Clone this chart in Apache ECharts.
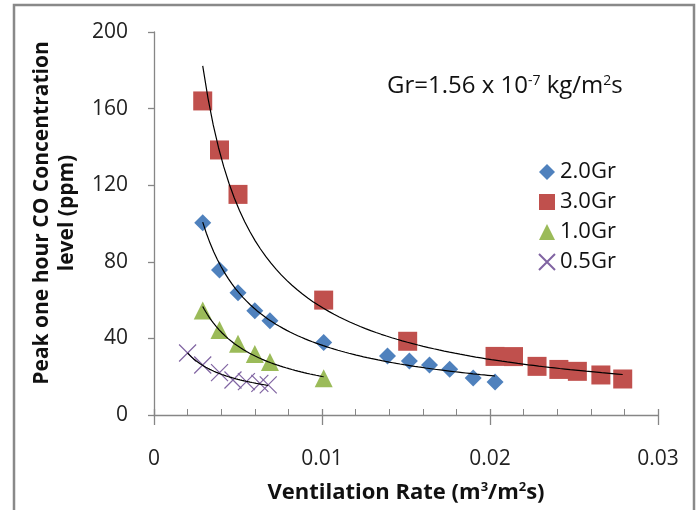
<!DOCTYPE html>
<html><head><meta charset="utf-8">
<script src="https://cdn.jsdelivr.net/npm/echarts@6/dist/echarts.min.js"></script>
<style>html,body{margin:0;padding:0;background:#fff}#c{width:699px;height:510px}</style>
</head><body><div id="c"></div>
<script>
// ---- data ----
const xTicks = [0, 0.01, 0.02, 0.03];
const yTicks = [0, 40, 80, 120, 160, 200];
const seriesNames = ['2.0Gr', '3.0Gr', '1.0Gr', '0.5Gr'];
const gr20X = [0.0029, 0.0039, 0.0050, 0.0060, 0.0069, 0.0101, 0.0139, 0.0152, 0.0164, 0.0176, 0.0190, 0.0203];
const gr20Y = [100.4, 75.7, 63.9, 54.5, 49.2, 37.8, 30.8, 28.2, 26.1, 23.9, 19.3, 17.2];
const gr30X = [0.0029, 0.0039, 0.0050, 0.0101, 0.0151, 0.0203, 0.0214, 0.0228, 0.0241, 0.0252, 0.0266, 0.0279];
const gr30Y = [164, 138.4, 115.2, 60, 38.5, 30.6, 30.5, 25.4, 23.8, 22.8, 20.9, 18.8];
const gr10X = [0.0029, 0.0039, 0.0050, 0.0060, 0.0069, 0.0101];
const gr10Y = [54.6, 44.4, 37.2, 31.8, 27.7, 19.2];
const gr05X = [0.0020, 0.0029, 0.0039, 0.0047, 0.0055, 0.0063, 0.0068];
const gr05Y = [32.4, 26.1, 22.1, 18.3, 17.4, 16.5, 15.7];

// ---- helpers ----
function pairs(xs, ys) { return xs.map((x, i) => [x, ys[i]]); }
// power trendline (least squares in log-log space), drawn over the data range
function powerTrend(xs, ys) {
  const n = xs.length;
  let sx = 0, sy = 0, sxx = 0, sxy = 0;
  for (let i = 0; i < n; i++) {
    const lx = Math.log(xs[i]), ly = Math.log(ys[i]);
    sx += lx; sy += ly; sxx += lx * lx; sxy += lx * ly;
  }
  const b = (n * sxy - sx * sy) / (n * sxx - sx * sx);
  const a = Math.exp((sy - b * sx) / n);
  const lo = Math.min(...xs), hi = Math.max(...xs);
  const out = [];
  const steps = 80;
  for (let k = 0; k <= steps; k++) {
    const x = lo + (hi - lo) * k / steps;
    out.push([x, a * Math.pow(x, b)]);
  }
  return out;
}

const FONT = '"Open Sans"';
const AX = '#868686';
const crossPath = 'path://M0,0L10,10M10,0L0,10';

const chart = echarts.init(document.getElementById('c'), null, {renderer: 'canvas'});
const trendStyle = {type: 'line', showSymbol: false, symbol: 'none', silent: true,
  lineStyle: {color: '#000', width: 1.2}, z: 3, xAxisIndex: 0, yAxisIndex: 0};

chart.setOption({
  animation: false,
  backgroundColor: '#fff',
  textStyle: {fontFamily: FONT},
  grid: {left: 154, right: 41, top: 32, bottom: 95},
  xAxis: [{
    type: 'value', min: xTicks[0], max: xTicks[xTicks.length - 1], interval: 0.01,
    splitLine: {show: false},
    axisLine: {lineStyle: {color: AX, width: 1.3}},
    axisTick: {inside: true, length: 6, lineStyle: {color: AX, width: 1.3}},
    minorTick: {show: true, splitNumber: 5, length: 6, lineStyle: {color: AX, width: 1}},
    axisLabel: {color: '#222', fontSize: 21, fontFamily: FONT, margin: 34,
      formatter: v => String(+v.toFixed(2))},
    name: 'Ventilation Rate (m{sup|3}/m{sup|2}s)',
    nameLocation: 'middle', nameGap: 66,
    nameTextStyle: {color: '#111', fontSize: 22, fontWeight: 'bold', fontFamily: FONT,
      rich: {sup: {fontSize: 13, fontWeight: 'bold', fontFamily: FONT, verticalAlign: 'top', padding: [0, 0, 10, 0], color: '#111'}}}
  }, {
    type: 'value', min: xTicks[0], max: xTicks[xTicks.length - 1], interval: 0.01,
    position: 'bottom', gridIndex: 0,
    splitLine: {show: false},
    axisLine: {show: false},
    axisTick: {inside: false, length: 10, lineStyle: {color: AX, width: 1.3}},
    axisLabel: {show: false}
  }],
  yAxis: {
    type: 'value', min: yTicks[0], max: yTicks[yTicks.length - 1], interval: 40,
    splitLine: {show: false},
    axisLine: {show: true, lineStyle: {color: AX, width: 1.3}},
    axisTick: {show: true, length: 6, lineStyle: {color: AX, width: 1.3}},
    axisLabel: {color: '#222', fontSize: 21, fontFamily: FONT, margin: 26}
  },
  legend: {
    orient: 'vertical', left: 538, top: 161, padding: 0, itemGap: 8, itemWidth: 16, itemHeight: 16,
    textStyle: {fontSize: 22, fontFamily: FONT, color: '#111', lineHeight: 22},
    data: [
      {name: seriesNames[0], icon: 'diamond'},
      {name: seriesNames[1], icon: 'rect'},
      {name: seriesNames[2], icon: 'triangle'},
      {name: seriesNames[3], icon: crossPath}
    ]
  },
  graphic: [
    {type: 'rect', z: 100, silent: true,
     shape: {x: 14, y: 5, width: 680, height: 530},
     style: {fill: 'none', stroke: '#898989', lineWidth: 2.5}},
    {type: 'text', z: 100, x: 55, y: 213, rotation: Math.PI / 2,
     style: {text: 'Peak one hour CO Concentration\nlevel (ppm)', font: 'bold 21px ' + FONT,
       fill: '#111', align: 'center', verticalAlign: 'middle', lineHeight: 25}},
    {type: 'text', left: 387, top: 74, z: 100,
     style: {text: 'Gr=1.56 x 10{sup|-7} kg/m{sup|2}s', font: '24px ' + FONT, fill: '#111',
       rich: {sup: {fontSize: 14, fontFamily: FONT, verticalAlign: 'top', padding: [0, 0, 11, 0], fill: '#111'}}}}
  ],
  series: [
    {name: seriesNames[0], type: 'scatter', symbol: 'diamond', symbolSize: 17,
     itemStyle: {color: '#4F81BD', opacity: 1}, data: pairs(gr20X, gr20Y), z: 2},
    {name: seriesNames[1], type: 'scatter', symbol: 'rect', symbolSize: 19,
     itemStyle: {color: '#C0504D', opacity: 1}, data: pairs(gr30X, gr30Y), z: 2},
    {name: seriesNames[2], type: 'scatter', symbol: 'triangle', symbolSize: [18, 18],
     itemStyle: {color: '#9BBB59', opacity: 1}, data: pairs(gr10X, gr10Y), z: 2},
    {name: seriesNames[3], type: 'scatter', symbol: crossPath, symbolSize: 17,
     itemStyle: {color: 'rgba(0,0,0,0)', borderColor: '#8064A2', borderWidth: 1.2, opacity: 1},
     data: pairs(gr05X, gr05Y), z: 2},
    Object.assign({name: 'trend2.0'}, trendStyle, {data: powerTrend(gr20X, gr20Y)}),
    Object.assign({name: 'trend3.0'}, trendStyle, {data: powerTrend(gr30X, gr30Y)}),
    Object.assign({name: 'trend1.0'}, trendStyle, {data: powerTrend(gr10X, gr10Y)}),
    Object.assign({name: 'trend0.5'}, trendStyle, {data: powerTrend(gr05X, gr05Y)})
  ]
});
</script>
</body></html>
